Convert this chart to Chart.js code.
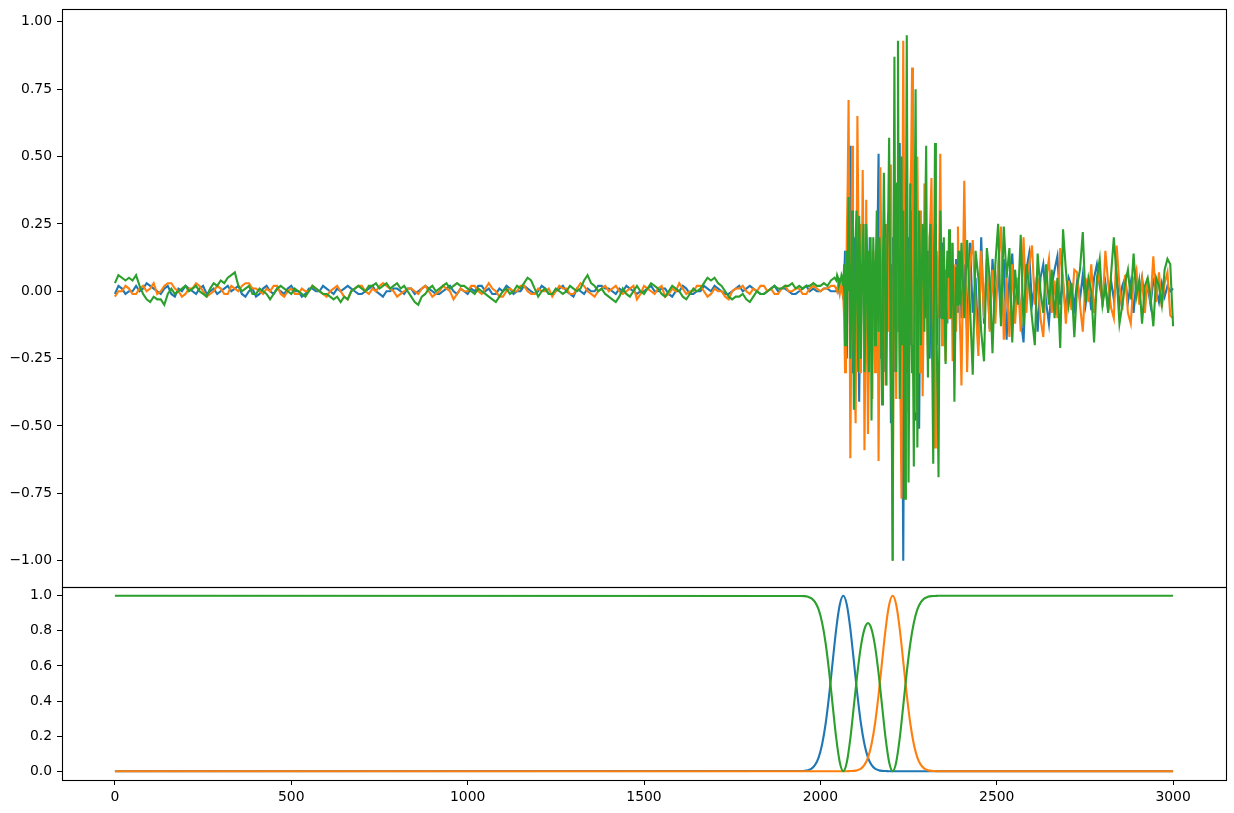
<!DOCTYPE html>
<html>
<head>
<meta charset="utf-8">
<title>Waveform and phase probabilities</title>
<script src="https://cdn.jsdelivr.net/npm/chart.js"></script>
<style>
  body { margin: 0; background: #fff; }
  #wrap { position: relative; width: 1234px; height: 813px; overflow: hidden; }
  canvas { position: absolute; left: 0; }
  #wave { top: -5px; }
  #prob { top: 573px; }
</style>
</head>
<body>
<div id="wrap">
  <canvas id="wave" width="1234" height="606"></canvas>
  <canvas id="prob" width="1234" height="240"></canvas>
</div>
<script>
// === Sample layout of the waveform ===
const noiseStart = 0, noiseStep = 10;     // quiet part, 0..2040
const eventStart = 2045, eventStep = 2.5; // P and S arrivals, 2045..2400
const codaStart = 2408, codaStep = 8;     // coda, 2408..3000

// === Waveform values, three channels ===
const blueNoise = [
  -0.01,0.02,0.01,-0.01,0.00,0.00,0.02,0.00,0.01,0.03,0.02,0.01,0.00,-0.01,0.01,0.02,-0.01,-0.02,0.01,0.00,
  0.02,0.01,0.00,-0.01,0.01,0.02,-0.01,0.00,0.01,-0.01,0.00,0.01,0.02,0.00,0.01,0.02,-0.01,-0.02,0.00,0.01,
  -0.02,-0.01,0.01,0.02,0.00,-0.01,0.01,0.00,-0.01,0.01,0.02,0.00,0.00,-0.02,-0.01,0.01,0.01,0.00,0.00,0.02,
  0.01,0.00,-0.01,0.01,0.00,0.01,0.02,0.01,0.00,-0.01,-0.01,0.00,0.01,0.02,0.00,-0.01,-0.02,0.00,0.00,0.01,
  0.01,0.00,-0.01,0.01,0.01,-0.01,0.00,0.01,0.02,0.01,0.00,-0.01,-0.01,0.00,0.01,0.02,0.00,-0.01,0.01,0.00,
  -0.01,0.01,0.00,0.02,0.02,0.00,0.01,-0.01,-0.01,0.01,0.00,0.02,0.01,-0.01,0.00,0.00,0.02,0.01,0.00,-0.01,
  0.00,0.02,0.01,-0.01,-0.01,0.00,0.01,0.02,0.00,-0.01,-0.02,0.01,0.00,-0.01,0.01,0.00,0.00,0.02,0.02,0.01,
  0.01,0.00,-0.01,0.01,0.00,0.02,0.01,0.00,-0.01,0.00,0.00,0.01,0.02,0.00,0.00,0.01,0.01,-0.01,-0.02,0.00,
  0.00,0.02,0.01,-0.01,-0.01,0.00,0.00,0.02,0.01,0.00,0.02,0.01,0.00,-0.01,-0.01,0.00,0.01,0.02,0.00,0.01,
  0.02,0.01,0.00,-0.01,-0.01,0.00,0.01,0.02,0.00,0.01,0.01,0.00,-0.01,-0.01,0.00,0.01,0.02,0.00,0.01,0.00,
  0.00,0.01,0.01,0.00,0.00
];
const orangeNoise = [
  -0.02,0.00,0.00,0.02,0.01,-0.01,-0.01,0.01,0.02,0.00,0.01,0.03,-0.01,0.00,0.02,0.03,0.03,0.01,0.00,-0.02,
  -0.01,0.01,0.01,0.03,0.02,0.00,-0.02,-0.01,0.00,0.02,0.01,-0.01,-0.01,0.02,0.01,0.00,0.02,0.03,0.03,0.01,
  0.01,0.00,-0.01,0.01,0.00,0.02,0.02,-0.01,-0.02,0.00,0.01,-0.01,-0.01,0.01,0.00,0.00,0.02,0.01,0.00,-0.01,
  -0.02,0.00,0.01,0.02,0.00,-0.02,-0.03,0.00,0.01,0.02,0.02,0.00,-0.01,0.01,0.00,0.02,0.03,0.02,0.01,0.00,
  -0.02,-0.01,0.00,0.01,0.01,0.00,-0.01,0.01,0.02,0.00,-0.02,-0.01,0.00,0.02,0.01,0.00,-0.03,-0.01,0.01,0.00,
  0.00,0.02,0.02,0.00,-0.01,0.01,0.03,0.01,0.00,-0.02,-0.02,0.00,0.01,0.00,0.00,0.02,0.02,0.00,-0.01,-0.01,
  0.01,0.00,0.00,0.01,-0.02,0.00,0.02,0.01,0.01,-0.01,-0.01,0.01,0.03,0.02,0.00,-0.01,-0.02,0.00,0.01,0.02,
  0.00,0.01,0.02,0.00,-0.01,0.00,0.01,0.02,-0.03,-0.01,0.02,0.01,0.00,-0.01,0.01,0.02,-0.02,-0.01,0.01,0.00,
  0.03,0.01,-0.01,0.00,0.00,0.02,0.02,0.00,-0.02,-0.01,0.01,0.00,0.00,-0.02,-0.03,0.00,0.01,0.01,0.02,0.00,
  -0.01,0.01,0.00,0.02,0.02,0.00,0.01,-0.01,-0.01,0.01,0.02,0.00,0.00,0.01,0.01,-0.01,-0.01,0.01,0.02,0.01,
  0.00,0.01,0.01,0.02,0.02
];
const greenNoise = [
  0.03,0.06,0.05,0.04,0.05,0.04,0.06,0.02,-0.01,-0.03,-0.04,-0.02,-0.03,-0.03,-0.05,-0.01,0.01,-0.01,0.00,0.01,
  0.02,0.00,0.01,0.02,0.00,-0.01,-0.02,0.01,0.03,0.02,0.04,0.03,0.05,0.06,0.07,0.02,0.00,0.01,0.02,-0.01,
  -0.01,0.01,0.00,-0.01,-0.03,-0.01,0.01,0.02,0.01,0.00,-0.01,0.01,0.00,-0.01,-0.02,0.00,0.02,0.01,0.00,-0.01,
  -0.01,-0.02,-0.03,-0.02,-0.04,-0.02,-0.03,0.00,0.01,0.02,0.01,0.00,0.02,0.02,0.03,0.01,0.02,0.03,0.01,0.02,
  0.03,0.01,0.02,0.00,-0.02,-0.04,-0.05,-0.02,-0.01,0.01,0.02,0.00,0.01,0.02,0.03,0.01,0.02,0.03,0.02,0.02,
  0.01,0.00,-0.01,0.01,0.00,-0.01,-0.02,-0.03,-0.04,-0.02,0.00,0.01,-0.01,0.00,0.02,0.01,0.03,0.05,0.04,0.01,
  -0.02,0.00,0.01,-0.01,-0.01,0.01,0.00,-0.01,0.00,0.02,0.01,0.00,0.01,0.04,0.06,0.03,0.02,0.00,0.01,-0.01,
  -0.02,-0.03,-0.04,-0.02,0.01,-0.01,-0.02,0.00,0.02,0.00,-0.01,0.01,0.03,0.02,0.01,-0.01,-0.02,0.00,0.02,0.01,
  0.00,-0.02,-0.03,-0.01,0.01,0.00,0.01,0.03,0.05,0.04,0.05,0.03,0.02,0.00,-0.02,-0.03,-0.02,-0.02,-0.01,-0.03,
  -0.04,-0.02,0.00,-0.01,-0.01,0.00,0.01,0.02,0.01,0.01,0.02,0.02,0.03,0.01,0.02,0.01,0.02,0.02,0.03,0.02,
  0.02,0.03,0.02,0.04,0.05
];

const blueEvent = [
  0.00,0.01,0.01,0.00,0.00,0.01,0.02,0.00,-0.03,0.05,0.15,-0.10,-0.25,0.05,0.30,0.10,0.54,0.15,-0.30,-0.05,
  0.20,0.05,-0.15,0.10,0.35,-0.10,-0.41,-0.15,0.10,0.20,0.25,-0.05,-0.20,0.00,0.15,-0.10,-0.30,-0.05,0.20,0.10,
  -0.10,-0.20,0.05,0.10,-0.25,-0.05,0.15,0.25,0.51,0.10,-0.20,-0.25,0.10,0.05,-0.30,-0.10,0.25,0.05,-0.15,0.10,
  0.30,0.00,-0.49,-0.20,0.20,0.05,-0.30,0.10,0.40,0.15,-0.15,0.20,0.55,-0.20,0.10,-0.40,-1.00,-0.30,0.35,0.05,
  -0.30,-0.10,0.20,0.10,-0.20,0.05,0.30,0.10,-0.15,-0.30,-0.48,0.00,0.25,-0.20,-0.51,-0.10,0.15,0.05,-0.20,0.00,
  0.20,0.05,-0.10,0.05,0.15,-0.10,-0.25,0.00,0.10,0.05,-0.15,0.10,0.25,0.05,-0.20,-0.05,0.10,0.00,-0.10,0.05,
  0.18,0.00,-0.15,-0.05,0.08,0.02,-0.12,0.05,0.15,0.05,-0.05,0.02,0.10,-0.05,-0.18,0.00,0.12,0.03,-0.08,0.05,
  0.15,0.02,-0.10
];
const orangeEvent = [
  0.01,0.00,0.02,0.01,-0.01,0.01,0.03,0.00,-0.02,-0.10,-0.30,-0.05,0.20,0.40,0.71,0.10,-0.62,-0.20,0.54,0.15,
  -0.20,-0.35,-0.49,0.05,0.65,0.30,-0.15,-0.30,0.25,0.05,0.45,0.10,-0.59,-0.25,0.34,-0.10,-0.53,-0.30,0.10,-0.05,
  -0.20,-0.40,0.15,0.00,-0.30,-0.10,0.20,0.05,-0.63,-0.20,0.46,0.20,-0.10,-0.25,0.05,0.20,-0.35,-0.15,0.25,0.10,
  -0.15,0.10,0.47,-0.30,-1.00,-0.20,0.30,0.10,-0.40,0.15,0.50,0.20,-0.20,-0.45,-0.77,0.25,0.93,0.30,-0.30,-0.10,
  0.20,0.00,-0.45,-0.15,0.35,0.50,0.83,0.10,-0.35,-0.10,-0.45,0.05,0.50,0.15,-0.20,-0.30,0.30,0.00,-0.39,-0.10,
  0.40,0.20,0.10,-0.05,-0.25,-0.10,0.20,0.30,0.42,0.05,-0.15,-0.35,-0.58,-0.10,0.15,0.05,-0.10,0.20,0.51,0.10,
  -0.20,-0.05,0.15,0.05,-0.26,-0.10,0.12,0.05,-0.10,0.05,0.18,0.00,-0.26,-0.10,0.05,0.10,-0.15,0.05,0.24,0.05,
  -0.10,-0.20,-0.35
];
const greenEvent = [
  0.04,0.06,0.05,0.02,0.03,0.04,0.06,0.05,0.02,0.10,-0.20,-0.05,0.15,0.00,0.35,0.10,-0.25,-0.10,0.30,0.05,
  -0.44,-0.20,0.20,0.30,-0.10,-0.30,0.28,0.10,-0.25,0.00,0.15,0.25,-0.30,-0.15,0.25,0.15,-0.15,-0.30,0.10,0.20,
  -0.48,-0.10,0.20,0.05,-0.20,0.10,0.30,-0.05,-0.15,0.20,0.10,-0.20,-0.42,0.10,0.44,0.20,-0.25,-0.35,0.20,0.30,
  0.57,0.10,-0.30,-0.50,-1.00,0.20,0.87,-0.10,-0.30,0.40,0.93,0.10,-0.40,-0.10,0.50,-0.20,0.30,-0.30,-0.77,0.20,
  0.95,0.10,-0.71,-0.20,0.40,0.10,-0.30,-0.20,-0.65,0.30,0.75,0.05,-0.58,-0.15,0.30,0.10,-0.20,0.05,0.25,0.20,
  -0.15,0.30,0.54,-0.05,-0.32,0.00,0.20,0.25,-0.10,-0.30,-0.64,0.10,0.55,0.15,-0.20,-0.40,-0.69,-0.10,0.30,0.15,
  -0.10,0.05,0.20,-0.10,-0.27,0.00,0.15,0.05,0.23,0.10,-0.10,0.05,0.18,-0.10,-0.41,-0.15,0.09,-0.05,0.10,0.15,
  -0.05,0.05,0.18
];

const blueCoda = [
  0.10,-0.15,0.18,-0.08,0.05,-0.20,0.20,-0.12,0.10,-0.14,
  0.12,-0.05,0.08,-0.10,0.12,-0.18,0.05,0.14,-0.08,0.05,
  -0.10,-0.19,0.08,0.14,-0.05,0.02,-0.15,0.05,0.10,-0.04,
  -0.12,0.02,0.08,0.13,-0.05,0.03,-0.08,0.05,0.02,-0.06,
  0.04,-0.03,0.06,-0.05,0.03,-0.07,0.05,0.10,0.02,-0.04,
  0.03,-0.07,0.04,-0.03,0.06,-0.05,0.02,0.05,-0.04,0.03,
  -0.08,0.04,-0.02,0.05,-0.03,0.02,-0.05,0.04,0.01,-0.04,
  0.03,-0.02,0.02,0.00,0.01
];
const orangeCoda = [
  0.41,-0.30,0.10,0.19,-0.05,-0.24,0.15,-0.10,0.12,-0.15,
  0.08,-0.12,0.10,0.24,-0.18,0.05,-0.17,0.10,-0.12,0.05,
  -0.15,0.20,-0.08,0.10,0.17,-0.05,0.05,-0.10,-0.17,0.05,
  0.12,-0.08,0.04,-0.10,0.16,0.05,-0.12,0.04,-0.07,0.08,
  0.07,-0.05,-0.15,0.05,-0.04,0.10,-0.08,0.02,0.07,-0.06,
  0.15,0.03,-0.06,-0.10,0.17,0.02,-0.07,0.06,-0.08,-0.12,
  0.04,0.08,-0.05,0.04,-0.08,0.05,-0.04,0.13,-0.04,0.07,
  -0.06,0.03,0.07,-0.09,-0.10
];
const greenCoda = [
  -0.10,0.19,-0.05,-0.31,0.15,0.05,-0.15,-0.26,0.16,0.05,
  -0.23,0.10,0.25,-0.13,0.24,0.05,0.16,-0.19,0.08,-0.05,
  0.21,-0.13,0.10,0.02,-0.10,-0.20,0.14,0.00,-0.08,0.10,
  -0.05,0.08,-0.10,0.05,-0.21,0.23,0.08,-0.05,0.03,-0.17,
  0.02,0.08,0.22,-0.04,0.05,0.00,-0.19,0.05,0.12,-0.05,
  0.02,-0.08,0.06,0.20,0.05,-0.12,-0.05,0.03,0.08,-0.03,
  0.14,-0.02,0.04,-0.12,0.02,0.05,-0.02,-0.13,0.05,0.02,
  -0.05,0.08,0.12,0.10,-0.13
];

// === Phase probabilities (bottom panel) ===
const probX = [0,
  1945,1955,1965,1975,1985,1995,2005,2015,2025,2035,
  2045,2055,2065,2075,2085,2095,2105,2115,2125,2135,
  2145,2155,2165,2175,2185,2195,2205,2215,2225,2235,
  2245,2255,2265,2275,2285,2295,2305,2315,2325,2335,
  3000];
const probP = [0,
  0.001,0.002,0.006,0.015,0.036,0.078,0.154,0.272,0.435,0.626,
  0.812,0.949,1.000,0.949,0.812,0.626,0.435,0.272,0.154,0.078,
  0.036,0.015,0.006,0.002,0.001,0,0,0,0,0,
  0,0,0,0,0,0,0,0,0,0,
  0];
const probS = [0,
  0,0,0,0,0,0,0,0,0,0,
  0,0,0,0,0.001,0.002,0.006,0.015,0.036,0.078,
  0.154,0.272,0.435,0.626,0.812,0.949,1.000,0.949,0.812,0.626,
  0.435,0.272,0.154,0.078,0.036,0.015,0.006,0.002,0.001,0,
  0];
const probN = [1,
  0.999,0.998,0.994,0.985,0.964,0.922,0.846,0.728,0.565,0.374,
  0.188,0.051,0.000,0.051,0.187,0.372,0.559,0.713,0.810,0.844,
  0.810,0.713,0.559,0.372,0.187,0.051,0.000,0.051,0.188,0.374,
  0.565,0.728,0.846,0.922,0.964,0.985,0.994,0.998,0.999,1.000,
  1];

// === Axis ticks ===
const xTicks = [0, 500, 1000, 1500, 2000, 2500, 3000];
const waveTicks = [-1.0, -0.75, -0.5, -0.25, 0, 0.25, 0.5, 0.75, 1.0];
const probTicks = [0, 0.2, 0.4, 0.6, 0.8, 1.0];

const BLUE = '#1f77b4', ORANGE = '#ff7f0e', GREEN = '#2ca02c';

Chart.defaults.font.family = "'DejaVu Sans', sans-serif";
Chart.defaults.font.size = 13.9;
Chart.defaults.color = '#000';

function segmentPoints(start, step, values) {
  return values.map((v, i) => ({ x: start + i * step, y: v }));
}

function wavePoints(noise, event, coda) {
  return [
    ...segmentPoints(noiseStart, noiseStep, noise),
    ...segmentPoints(eventStart, eventStep, event),
    ...segmentPoints(codaStart, codaStep, coda)
  ];
}

function fmt(v, digits) {
  const s = Math.abs(v).toFixed(digits);
  return v < -1e-9 ? '\u2212' + s : s;
}

// matplotlib-like box round the plot area
const framePlugin = {
  id: 'frame',
  afterDraw(chart) {
    const { ctx, chartArea: a } = chart;
    ctx.save();
    ctx.strokeStyle = '#000';
    ctx.lineWidth = 1.1;
    ctx.strokeRect(Math.round(a.left) + 0.5, Math.round(a.top) + 0.5,
      Math.round(a.right - a.left), Math.round(a.bottom - a.top));
    ctx.restore();
  }
};

function lineSet(points, color, order, smooth) {
  return {
    data: points,
    borderColor: color,
    backgroundColor: color,
    borderWidth: 2.1,
    pointRadius: 0,
    fill: false,
    order: order,
    tension: 0,
    cubicInterpolationMode: smooth ? 'monotone' : 'default'
  };
}

function yAxis(min, max, ticks, digits) {
  return {
    type: 'linear',
    min: min,
    max: max,
    afterBuildTicks: s => { s.ticks = ticks.map(v => ({ value: v })); },
    afterFit: s => { s.width = 62; },
    ticks: { padding: 5, callback: v => fmt(v, digits) },
    grid: { drawOnChartArea: false, drawTicks: true, tickLength: 5, color: '#000', lineWidth: 1 },
    border: { display: false }
  };
}

// === Top: waveforms ===
new Chart(document.getElementById('wave'), {
  type: 'line',
  data: {
    datasets: [
      lineSet(wavePoints(blueNoise, blueEvent, blueCoda), BLUE, 2, false),
      lineSet(wavePoints(orangeNoise, orangeEvent, orangeCoda), ORANGE, 1, false),
      lineSet(wavePoints(greenNoise, greenEvent, greenCoda), GREEN, 0, false)
    ]
  },
  options: {
    responsive: false,
    devicePixelRatio: 1,
    animation: false,
    layout: { padding: { top: 14, right: 8, bottom: 14, left: 0 } },
    plugins: { legend: { display: false }, tooltip: { enabled: false } },
    scales: {
      x: { type: 'linear', min: -150, max: 3150, display: false },
      y: yAxis(-1.0975, 1.0475, waveTicks, 2)
    }
  },
  plugins: [framePlugin]
});

// === Bottom: probabilities ===
const probPoints = vals => probX.map((x, i) => ({ x: x, y: vals[i] }));

new Chart(document.getElementById('prob'), {
  type: 'line',
  data: {
    datasets: [
      lineSet(probPoints(probP), BLUE, 2, true),
      lineSet(probPoints(probS), ORANGE, 1, true),
      lineSet(probPoints(probN), GREEN, 0, true)
    ]
  },
  options: {
    responsive: false,
    devicePixelRatio: 1,
    animation: false,
    layout: { padding: { top: 14, right: 8, bottom: 0, left: 0 } },
    plugins: { legend: { display: false }, tooltip: { enabled: false } },
    scales: {
      x: {
        type: 'linear',
        min: -150,
        max: 3150,
        afterBuildTicks: s => { s.ticks = xTicks.map(v => ({ value: v })); },
        afterFit: s => { s.height = 33; },
        ticks: { padding: 4, maxRotation: 0, callback: v => String(v) },
        grid: { drawOnChartArea: false, drawTicks: true, tickLength: 5, color: '#000', lineWidth: 1 },
        border: { display: false }
      },
      y: yAxis(-0.05, 1.05, probTicks, 1)
    }
  },
  plugins: [framePlugin]
});
</script>
</body>
</html>
